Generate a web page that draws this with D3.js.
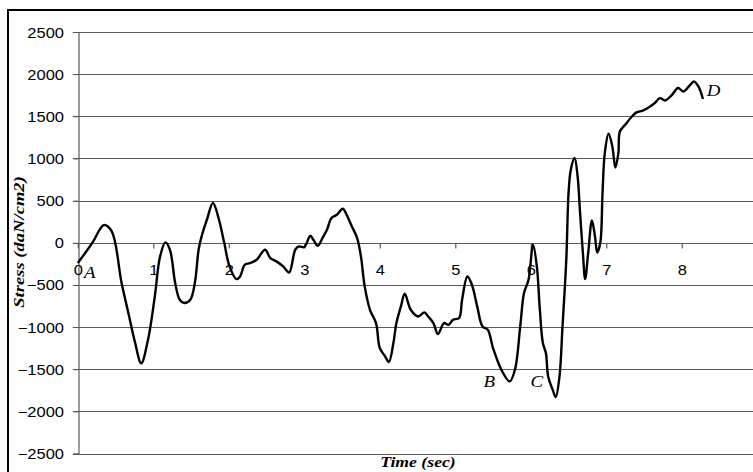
<!DOCTYPE html>
<html><head><meta charset="utf-8">
<script src="https://cdn.jsdelivr.net/npm/d3@7"></script>
<style>body{margin:0;background:#fff;overflow:hidden}</style>
</head><body>
<svg id="c" width="753" height="472"></svg>
<script>
const timeSec = [0,0.2,0.3,0.35,0.45,0.58,0.67,0.76,0.84,0.93,1.02,1.09,1.16,1.22,1.29,1.35,1.41,1.49,1.55,1.60,1.64,1.71,1.79,1.87,1.94,2.01,2.10,2.15,2.21,2.28,2.37,2.48,2.55,2.63,2.72,2.80,2.88,2.93,3.00,3.08,3.12,3.18,3.24,3.30,3.36,3.43,3.51,3.56,3.63,3.70,3.75,3.80,3.87,3.95,4.00,4.07,4.12,4.18,4.22,4.28,4.33,4.41,4.51,4.59,4.64,4.71,4.77,4.85,4.91,4.97,5.05,5.09,5.16,5.22,5.29,5.36,5.43,5.50,5.61,5.72,5.79,5.86,5.91,5.97,6.03,6.08,6.12,6.16,6.20,6.23,6.29,6.33,6.38,6.42,6.47,6.50,6.53,6.58,6.62,6.65,6.69,6.72,6.76,6.81,6.85,6.88,6.92,6.95,6.98,7.03,7.08,7.12,7.16,7.18,7.25,7.34,7.40,7.49,7.58,7.65,7.71,7.78,7.87,7.95,8.02,8.10,8.16,8.22,8.28];
const stress = [-240,10,170,210,134,-478,-834,-1190,-1430,-1150,-637,-162,4,-83,-478,-676,-715,-676,-478,-83,75,273,471,273,-4,-281,-431,-400,-261,-241,-202,-83,-182,-221,-281,-352,-83,-44,-51,83,36,-36,55,154,293,332,403,332,194,55,-162,-518,-795,-953,-1249,-1348,-1415,-1190,-953,-755,-605,-795,-874,-826,-874,-953,-1083,-953,-973,-913,-893,-676,-400,-498,-755,-993,-1032,-1250,-1506,-1645,-1506,-993,-597,-439,-24,-281,-795,-1190,-1309,-1586,-1744,-1831,-1586,-993,-202,590,866,1005,787,391,-122,-431,-122,265,75,-115,-4,590,1064,1293,1142,893,1064,1320,1400,1498,1546,1570,1617,1664,1716,1688,1755,1835,1795,1862,1913,1854,1705];
const xTicks = [0,1,2,3,4,5,6,7,8];
const yTicks = [-2500,-2000,-1500,-1000,-500,0,500,1000,1500,2000,2500];
const pointLabels = ["A","B","C","D"];
const pointTimes = [0.16,5.45,6.08,8.42];
const pointValues = [-350,-1650,-1650,1810];
const xTitle = "Time (sec)";
const yTitle = "Stress (daN/cm2)";

const svg = d3.select("#c");
const x = d3.scaleLinear().domain([0,9]).range([77.8,757.3]);
const y = d3.scaleLinear().domain([-2500,2500]).range([453.5,32]);
const SX = 1.18;

// outer frame
svg.append("rect").attr("x",8).attr("y",10).attr("width",800).attr("height",500)
  .attr("fill","none").attr("stroke","#000").attr("stroke-width",2);

// gridlines
svg.append("g").selectAll("line").data(yTicks).join("line")
  .attr("x1",x(0)-5).attr("x2",x(9)).attr("y1",d=>Math.round(y(d))+0.5).attr("y2",d=>Math.round(y(d))+0.5)
  .attr("stroke","#5a5a5a").attr("stroke-width",1.2);

// y axis
const ya = svg.append("g").attr("transform",`translate(${Math.round(x(0))+0.5},0)`)
  .call(d3.axisLeft(y).tickValues(yTicks).tickSize(5).tickFormat(d3.format("d")));
ya.select(".domain").attr("stroke","#5a5a5a").attr("stroke-width",1.2);
ya.selectAll(".tick line").attr("stroke","#5a5a5a");
ya.selectAll(".tick text").attr("x",null).attr("dy","0.36em")
  .attr("transform",`translate(-14.5,0) scale(${SX},1)`)
  .attr("font-family","Liberation Sans, Arial, sans-serif").attr("font-size",14).attr("fill","#000");

// x axis at zero
const xa = svg.append("g").attr("transform",`translate(0,${Math.round(y(0))+0.5})`)
  .call(d3.axisBottom(x).tickValues(xTicks).tickSize(5).tickFormat(d3.format("d")));
xa.select(".domain").remove();
xa.selectAll(".tick line").attr("stroke","#5a5a5a").attr("stroke-width",1.2);
xa.selectAll(".tick text").attr("y",null).attr("dy","0.36em")
  .attr("transform",`translate(0,26) scale(${SX},1)`)
  .attr("font-family","Liberation Sans, Arial, sans-serif").attr("font-size",14).attr("fill","#000");

// curve
const pts = timeSec.map((t,i)=>[t,stress[i]]);
svg.append("path").datum(pts)
  .attr("d",d3.line().x(d=>x(d[0])).y(d=>y(d[1])).curve(d3.curveCatmullRom.alpha(0.5)))
  .attr("fill","none").attr("stroke","#000").attr("stroke-width",2.4).attr("stroke-linejoin","round");

// point labels
svg.append("g").selectAll("text").data(pointLabels).join("text")
  .attr("transform",(d,i)=>`translate(${x(pointTimes[i])},${y(pointValues[i])}) scale(${SX},1)`)
  .attr("text-anchor","middle").attr("dy","0.35em")
  .attr("font-family","Liberation Serif, Times New Roman, serif").attr("font-style","italic")
  .attr("font-size",16).text(d=>d);

// axis titles
svg.append("text").attr("transform",`translate(418,467) scale(${SX},1)`)
  .attr("text-anchor","middle").attr("font-family","Liberation Serif, Times New Roman, serif")
  .attr("font-style","italic").attr("font-weight","bold").attr("font-size",15).text(xTitle);
svg.append("text").attr("transform",`translate(24,242) rotate(-90) scale(1.2,1)`)
  .attr("text-anchor","middle").attr("font-family","Liberation Serif, Times New Roman, serif")
  .attr("font-style","italic").attr("font-weight","bold").attr("font-size",15.5).text(yTitle);
</script>
</body></html>
